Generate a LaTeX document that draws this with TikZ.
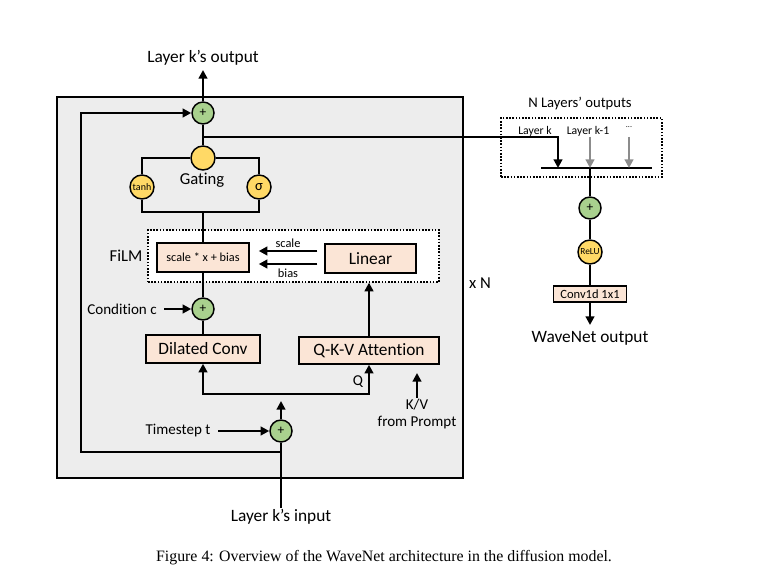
\documentclass[tikz,border=0pt]{standalone}
\usepackage{fontspec}
\setmainfont{Carlito}[Ligatures={NoCommon}]
\newfontfamily\capfont{Liberation Serif}
\usetikzlibrary{arrows.meta,calc}
\definecolor{plusgreen}{HTML}{A9D18E}
\definecolor{gateyellow}{HTML}{FFD966}
\definecolor{boxpeach}{HTML}{FBE5D6}
\definecolor{outergray}{HTML}{EDEDED}
\definecolor{arrgray}{HTML}{8C8C8C}
\tikzset{
  wire/.style={line width=1.6pt},
  arr/.style={line width=1.6pt,-{Triangle[length=6.5pt,width=6.5pt]}},
  garr/.style={line width=1.6pt,draw=arrgray,-{Triangle[length=6.5pt,width=6.5pt]}},
  plusn/.style={circle,draw,line width=1.1pt,fill=plusgreen,minimum size=16.5pt,inner sep=0pt,font=\fontsize{10}{10}\selectfont},
  yelc/.style={circle,draw,line width=1.1pt,fill=gateyellow,minimum size=18pt,inner sep=0pt},
  pbox/.style={draw,line width=1.1pt,fill=boxpeach,inner sep=0pt},
  dotbox/.style={draw,line width=1pt,dash pattern=on 1.2pt off 1.2pt,fill=white,inner sep=0pt},
  lbl/.style={inner sep=1pt},
}
\begin{document}
\begin{tikzpicture}[x=0.75pt,y=-0.75pt]
\useasboundingbox (0,0) rectangle (766,584);
% containers
\node[draw,line width=1.2pt,fill=outergray,minimum width=304.5pt,minimum height=285.75pt,inner sep=0pt] (outer) at (260,287.5) {};
\node[dotbox,minimum width=218.25pt,minimum height=39pt] (film) at (293.5,256) {};
\node[dotbox,minimum width=120.75pt,minimum height=44.25pt] (nlbox) at (581.5,147.5) {};
% circles
\node[plusn] (plusTop) at (203,113) {+};
\node[yelc] (gate) at (203,158) {};
\node[yelc] (tanh) at (142,187) {\fontsize{7.5}{8}\selectfont tanh};
\node[yelc] (sigma) at (259,187) {\fontsize{11}{12}\selectfont σ};
\node[plusn] (plusC) at (203,309) {+};
\node[plusn] (plusT) at (281,431) {+};
\node[plusn] (plusR) at (590,208) {+};
\node[yelc] (relu) at (590,252) {\fontsize{7}{8}\selectfont ReLU};
% boxes
\node[pbox,minimum width=69pt,minimum height=21.75pt] (sbox) at (203,257.5) {\fontsize{9.2}{10}\selectfont scale * x + bias};
\node[pbox,minimum width=68.25pt,minimum height=21.75pt] (linear) at (370.5,258.5) {\fontsize{13}{14}\selectfont Linear};
\node[pbox,minimum width=85.5pt,minimum height=21pt] (dconv) at (203,349) {\fontsize{13}{14}\selectfont Dilated Conv};
\node[pbox,minimum width=105pt,minimum height=20.25pt] (qkv) at (369,350.5) {\fontsize{13}{14}\selectfont Q-K-V Attention};
\node[pbox,minimum width=54.75pt,minimum height=12pt] (conv1) at (590,294) {\fontsize{9.4}{10}\selectfont Conv1d 1x1};
% text labels
\node[lbl,font=\fontsize{13}{14}\selectfont] (outlbl) at (203,58) {Layer k’s output};
\node[lbl,font=\fontsize{12.5}{14}\selectfont] (gatelbl) at (202,180) {Gating};
\node[lbl,font=\fontsize{12.5}{14}\selectfont] (filmlbl) at (126,256) {FiLM};
\node[lbl,font=\fontsize{9.3}{10}\selectfont] (scalelbl) at (288,243) {scale};
\node[lbl,font=\fontsize{9.3}{10}\selectfont] (biaslbl) at (288,273) {bias};
\node[lbl,font=\fontsize{11.3}{13}\selectfont] (condc) at (122,309) {Condition c};
\node[lbl,font=\fontsize{11.3}{13}\selectfont] (qlbl) at (358,382) {Q};
\node[lbl,font=\fontsize{11.3}{13}\selectfont] (kv) at (417,405) {K/V};
\node[lbl,font=\fontsize{11.3}{13}\selectfont] (prompt) at (417,423) {from Prompt};
\node[lbl,font=\fontsize{11.3}{13}\selectfont] (ts) at (178,431) {Timestep t};
\node[lbl,font=\fontsize{13}{14}\selectfont] (lin) at (281,517) {Layer k’s input};
\node[lbl,font=\fontsize{12.5}{14}\selectfont] (xn) at (480,283) {x N};
\node[lbl,font=\fontsize{11}{12}\selectfont] (nllbl) at (580,104) {N Layers’ outputs};
\node[lbl,font=\fontsize{8.8}{10}\selectfont] (lk) at (535,131) {Layer k};
\node[lbl,font=\fontsize{8.8}{10}\selectfont] (lk1) at (588,131) {Layer k-1};
\node[lbl,font=\fontsize{6}{7}\selectfont] (dots) at (629,127) {...};
\node[lbl,font=\fontsize{13}{14}\selectfont] (wout) at (590,338) {WaveNet output};
\node[lbl,font=\capfont\fontsize{11.9}{13}\selectfont] (cap) at (384,558) {Figure 4: Overview of the WaveNet architecture in the diffusion model.};
% coordinates
\coordinate (outTip) at (203,70);
\coordinate (j1) at (203,137);
\coordinate (lkTip) at (558,168);
\coordinate (bj) at (203,212);
\coordinate (br) at (281,394);
\coordinate (brTip) at (281,401);
\coordinate (kvtip) at (417,373);
\coordinate (fb) at (281,452);
\coordinate (fbc) at (81,113);
\coordinate (barL) at (541,168);
\coordinate (barR) at (652,168);
\coordinate (bc) at (590,168);
\coordinate (g1s) at (590,137);
\coordinate (g2s) at (629,137);
\coordinate (woutTip) at (590,325);
% connectors
\draw[arr] (plusTop.north) -- (outTip);
\draw[wire] (gate.north) -- (plusTop.south);
\draw[arr] (j1) -| (lkTip);
\draw[wire] (tanh.north) |- (gate.west);
\draw[wire] (gate.east) -| (sigma.north);
\draw[wire] (tanh.south) |- (bj) -| (sigma.south);
\draw[wire] (bj) -- (sbox.north);
\draw[wire] (sbox.south) -- (plusC.north);
\draw[wire] (plusC.south) -- (dconv.north);
\draw[arr] ($(condc.east)+(6,0)$) -- (plusC.west);
\draw[arr] ($(linear.west)+(-7,-7.5)$) -- ($(sbox.east)+(9,-6.5)$);
\draw[arr] ($(linear.west)+(-7,5.5)$) -- ($(sbox.east)+(9,6.5)$);
\draw[arr] (qkv.north) -- (qkv.north |- film.south);
\draw[arr] (br) -| (dconv.south);
\draw[arr] (br) -| (qkv.south);
\draw[arr] (plusT.north) -- (brTip);
\draw[arr] (kv.north) -- (kvtip);
\draw[arr] ($(ts.east)+(6,0)$) -- (plusT.west);
\draw[wire] (lin.north) -- (plusT.south);
\draw[arr] (fb) -| (fbc) -- (plusTop.west);
\draw[wire] (barL) -- (barR);
\draw[garr] (g1s) -- (bc);
\draw[garr] (g2s) -- (g2s |- barR);
\draw[wire] (bc) -- (plusR.north);
\draw[wire] (plusR.south) -- (relu.north);
\draw[wire] (relu.south) -- (conv1.north);
\draw[arr] (conv1.south) -- (woutTip);
\end{tikzpicture}
\end{document}
